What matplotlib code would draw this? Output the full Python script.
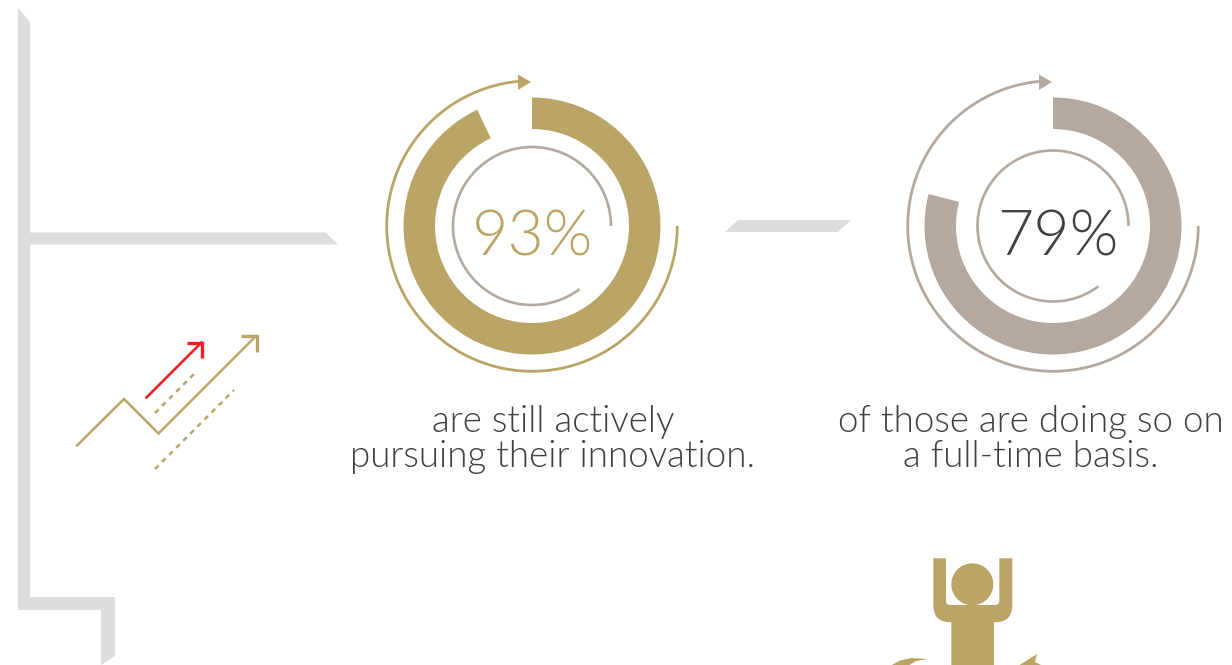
#!/usr/bin/env python3
# Innovation follow-up infographic: two progress rings with captions and icons.

import numpy as np
import matplotlib
matplotlib.use("Agg")
import matplotlib.pyplot as plt
from matplotlib.patches import Wedge, Polygon, PathPatch
from matplotlib.path import Path

W, H = 1232, 665
GOLD = "#BAA567"
TAUPE = "#B5A89E"
FRAME = "#DCDDDE"
DARK = "#414042"
RED = "#ED2024"
FONT = ["Lato", "DejaVu Sans"]

# Values
percents = [93, 79]
percent_labels = ["93%", "79%"]
captions = [
    ["are still actively", "pursuing their innovation."],
    ["of those are doing so on", "a full-time basis."],
]

# Ring layout
centers = [(532, 226), (1053, 226)]
ring_colors = [GOLD, TAUPE]
number_colors = [GOLD, DARK]
inner_radii = [79, 75.5]
number_x = [533, 1058]
caption_x = [553, 1031]


def arc(ax, cx, cy, r, start, end, color, lw=2.0):
    # angles in degrees, clockwise from 12 o'clock
    t = np.radians(np.linspace(start, end, 300))
    ax.plot(cx + r * np.sin(t), cy - r * np.cos(t), color=color, lw=lw,
            solid_capstyle="butt")


def ring(ax, i):
    cx, cy = centers[i]
    c = ring_colors[i]
    # y axis is flipped, so wedge angles run clockwise on screen
    ax.add_patch(Wedge((cx, cy), 128.5, -90, -90 + 3.6 * percents[i], width=31.5,
                       facecolor=c, edgecolor="none"))
    # outer arrow, from 3 o'clock clockwise round to the top
    arc(ax, cx, cy, 145.3, 90, 357, c)
    ax.add_patch(Polygon([(cx - 1, 82), (cx - 14, 74.5), (cx - 14, 90)],
                         facecolor=c, edgecolor="none"))
    # thin inner arc, counter-clockwise from 3 o'clock
    arc(ax, cx, cy, inner_radii[i], 90, -217, TAUPE, lw=1.9)

    ax.text(number_x[i], 255, percent_labels[i], color=number_colors[i], fontsize=45,
            family=FONT, weight=300, ha="center", va="baseline")
    for line, y in zip(captions[i], [432, 467]):
        ax.text(caption_x[i], y, line, color=DARK, fontsize=26.5, family=FONT,
                weight=300, ha="center", va="baseline")


def frame(ax):
    pts = [(18, 8), (30, 22), (30, 232.5), (326, 232.5), (338, 244.5), (30, 244.5),
           (30, 597), (115, 597), (115, 656), (101, 665), (101, 610), (18, 610)]
    ax.add_patch(Polygon(pts, facecolor=FRAME, edgecolor="none"))
    ax.add_patch(Polygon([(738, 220), (851, 220), (838, 232), (725, 232)],
                         facecolor=FRAME, edgecolor="none"))


def growth_icon(ax):
    ax.plot([77, 124, 158.5, 256], [445.5, 399, 433.5, 336], color=GOLD, lw=1.8,
            solid_joinstyle="miter")
    ax.plot([241, 256.5, 256.5], [336, 336, 351.5], color=GOLD, lw=2.4,
            solid_joinstyle="miter", solid_capstyle="butt")
    ax.plot([146.5, 201.5], [397.5, 342.5], color=RED, lw=1.9)
    ax.plot([186.5, 202, 202], [342.5, 342.5, 357.5], color=RED, lw=2.4,
            solid_joinstyle="miter", solid_capstyle="butt")
    for x, y in [([155, 197], [413, 371]), ([155, 234], [469, 390])]:
        ax.plot(x, y, color=GOLD, lw=1.8, linestyle=(0, (2.0, 2.0)),
                dash_capstyle="butt")


def person_icon(ax):
    L, C, Z = Path.LINETO, Path.CURVE3, Path.CLOSEPOLY
    verts = [(933.3, 558.3), (946, 558.3), (946, 601), (946, 605), (950, 605),
             (995, 605), (999.3, 605), (999.3, 601), (999.3, 558.3), (1012.3, 558.3),
             (1012.3, 605), (1012.3, 622.3), (995, 622.3), (994, 622.3), (994, 670),
             (951.3, 670), (951.3, 622.3), (950.5, 622.3), (933.3, 622.3), (933.3, 605),
             (933.3, 558.3)]
    codes = [Path.MOVETO, L, L, C, C, L, C, C, L, L, L, C, C, L, L, L, L, L, C, C, Z]
    ax.add_patch(PathPatch(Path(verts, codes), facecolor=GOLD, edgecolor="none"))
    ax.add_patch(plt.Circle((972.3, 584.3), 21, facecolor=GOLD, edgecolor="none"))
    # tops of the circular arrows under the figure
    ax.add_patch(Polygon([(890, 666), (900, 660.5), (912, 658), (928, 659), (916, 661),
                          (908, 666)], facecolor=GOLD, edgecolor="none"))
    ax.add_patch(Polygon([(1018, 666), (1037, 654), (1035, 662), (1043, 666)],
                         facecolor=GOLD, edgecolor="none"))


def main():
    fig = plt.figure(figsize=(W / 100, H / 100), dpi=100, facecolor="white")
    ax = fig.add_axes([0, 0, 1, 1])
    ax.set_xlim(0, W)
    ax.set_ylim(H, 0)
    ax.axis("off")

    frame(ax)
    growth_icon(ax)
    person_icon(ax)
    for i in range(len(percents)):
        ring(ax, i)

    fig.savefig("out.png", dpi=100)


if __name__ == "__main__":
    main()
